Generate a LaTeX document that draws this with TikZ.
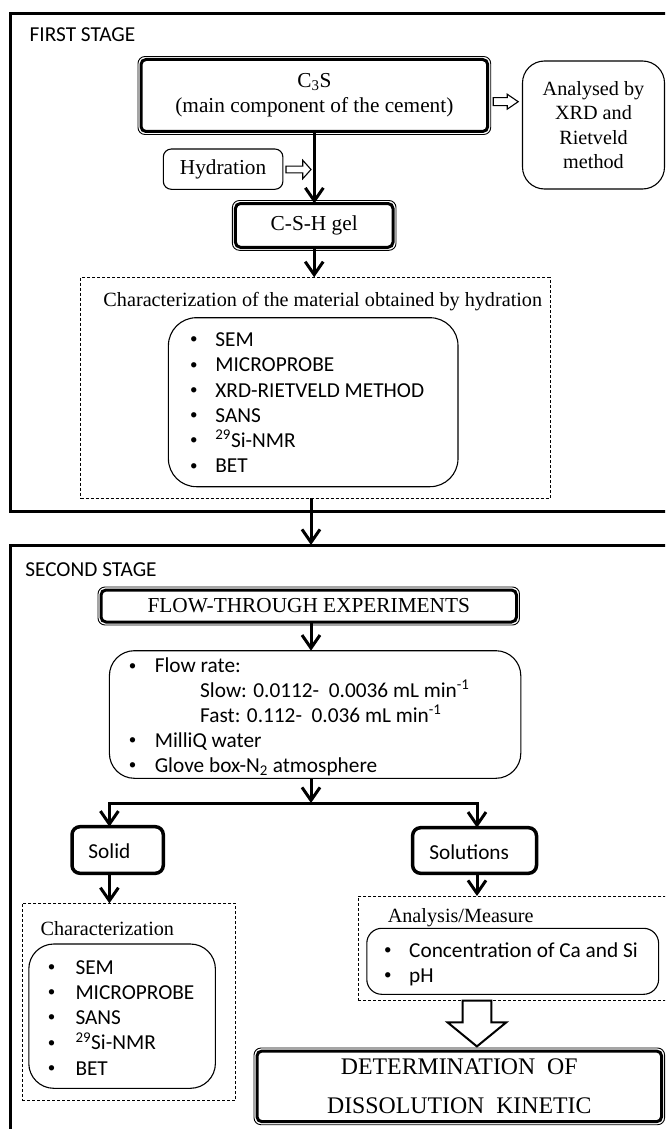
\documentclass[tikz,border=0pt]{standalone}
\usepackage{fontspec}
\setmainfont{Liberation Serif}
\newfontfamily\calfont{Carlito}
\usetikzlibrary{arrows.meta,calc}
\newcommand{\mybul}[1]{\makebox[#1][l]{\hspace*{1.5pt}\raisebox{2.6pt}{\fontsize{15}{15}\selectfont\textbullet}}}
\tikzset{
  every node/.style={inner sep=0pt, outer sep=0pt},
  tnr/.style={font=\fontsize{21.3}{25}\selectfont},
  tnrs/.style={font=\fontsize{20.2}{24.3}\selectfont},
  cal/.style={font=\calfont\fontsize{21.3}{25.3}\selectfont},
  dblbox/.style={draw, line width=3pt, rounded corners=5pt},
  dblouter/.style={line width=0.9pt, rounded corners=7pt},
  thinbox/.style={draw, line width=1.1pt, rounded corners=#1},
  thickbox/.style={draw, line width=3.5pt, rounded corners=8pt},
  stagebox/.style={draw, line width=3pt},
  dashbox/.style={draw, line width=0.9pt, dash pattern=on 3pt off 2pt},
  conn/.style={line width=3pt, line join=miter, -{Straight Barb[length=13pt,width=18pt]}},
  hollow/.style={draw, line width=1.1pt, fill=white, line join=miter},
  bighollow/.style={draw, line width=2pt, fill=white, line join=miter},
  bullbox/.style={cal, anchor=base west},
}
\begin{document}
\begin{tikzpicture}[x=1pt,y=-1pt]
\useasboundingbox (0,0) rectangle (665,1129);
\clip (0,0) rectangle (665,1129);
\fill[white] (0,0) rectangle (665,1129);

% ---------- stage frames
\node[stagebox, minimum width=670pt, minimum height=497.7pt] (outer1) at (345,262.85) {};
\node[stagebox, minimum width=670pt, minimum height=595pt] (outer2) at (345,842.5) {};
\node[cal, anchor=base west] (fs) at (29.7,41.7) {FIRST STAGE};
\node[cal, anchor=base west] (ss) at (25.4,576) {SECOND STAGE};

% ---------- first stage
\node[dblbox, tnr, align=center, minimum width=346.7pt, minimum height=72pt] (c3s) at (314.35,95.5)
  {C\textsubscript{3}S\\(main component of the cement)};
\draw[dblouter] ([xshift=-3pt,yshift=3pt]c3s.north west) rectangle ([xshift=3pt,yshift=-3pt]c3s.south east);

\node[thinbox=22pt, tnrs, align=center, minimum width=142pt, minimum height=128pt] (anal) at (593.5,125)
  {Analysed by\\XRD and\\Rietveld\\method};

\node[thinbox=8pt, tnr, minimum width=119.6pt, minimum height=40.3pt] (hydr) at (223.1,169.15) {Hydration};

\node[dblbox, tnr, minimum width=157.6pt, minimum height=43.8pt] (csh) at (314.2,225.4) {C-S-H gel};
\draw[dblouter] ([xshift=-3pt,yshift=3pt]csh.north west) rectangle ([xshift=3pt,yshift=-3pt]csh.south east);

\node[dashbox, minimum width=469.4pt, minimum height=221pt] (dash1) at (315.3,387.8) {};
\node[tnrs, anchor=base] (char1) at (322.8,306) {Characterization of the material obtained by hydration};
\node[thinbox=28pt, minimum width=289.6pt, minimum height=169pt] (list1) at (313.2,402.2) {};
\foreach \t [count=\i from 0] in {SEM,MICROPROBE,XRD-RIETVELD METHOD,SANS,\textsuperscript{29}Si-NMR,BET}
  \node[bullbox] (la\i) at (188.5,346.5+25.25*\i) {\mybul{26.9pt}\t};

% hollow arrows
\coordinate (ha) at (493.2,101.7);
\draw[hollow] (ha) ++(0,-4) -- ++(14,0) -- ++(0,-3.5) -- ++(11,7.5) -- ++(-11,7.5) -- ++(0,-3.5) -- ++(-14,0) -- cycle;
\coordinate (hb) at (286,169.5);
\draw[hollow] (hb) ++(0,-3.4) -- ++(16.7,0) -- ++(0,-5.9) -- ++(8.3,9.3) -- ++(-8.3,9.3) -- ++(0,-5.9) -- ++(-16.7,0) -- cycle;

% main arrows
\draw[conn] (c3s.south) -- (c3s.south |- csh.north);
\draw[conn] (csh.south) -- (csh.south |- dash1.north);
\coordinate (col) at (311,0);
\draw[conn] (dash1.south -| col) -- (outer2.north -| col);

% ---------- second stage
\node[dblbox, tnr, minimum width=415.5pt, minimum height=32pt] (flow) at (308.75,606) {FLOW-THROUGH EXPERIMENTS};
\draw[dblouter] ([xshift=-3pt,yshift=3pt]flow.north west) rectangle ([xshift=3pt,yshift=-3pt]flow.south east);

\node[thinbox=25pt, minimum width=411.4pt, minimum height=127.6pt] (flowbox) at (315.1,714.5) {};
\node[bullbox] (f1) at (127.4,672.7) {\mybul{27.4pt}Flow rate:};
\node[bullbox] (f2) at (200.2,697.5) {Slow: 0.0112-\ \ 0.0036 mL min\textsuperscript{-1}};
\node[bullbox] (f3) at (200.2,722.5) {Fast: 0.112-\ \ 0.036 mL min\textsuperscript{-1}};
\node[bullbox] (f4) at (127.4,747.5) {\mybul{27.4pt}MilliQ water};
\node[bullbox] (f5) at (127.4,772.5) {\mybul{27.4pt}Glove box-N\textsubscript{2} atmosphere};

\draw[conn] (flow.south -| col) -- (flowbox.north -| col);
\coordinate (split) at (311,803);
\coordinate (sl) at (109.4,803);
\coordinate (sr) at (477,803);
\draw[conn] (flowbox.south -| col) -- (split);

\node[thickbox, minimum width=91.3pt, minimum height=46.6pt] (solid) at (117.65,850) {};
\node[cal, anchor=base] (solidt) at (109.4,858.3) {Solid};
\node[thickbox, minimum width=123.9pt, minimum height=45.6pt] (solu) at (474.55,850.5) {};
\node[cal, anchor=base] (solut) at (469.2,859.5) {Solutions};

\draw[conn] (sr) -- (sl) -- (sl |- solid.north);
\draw[conn] (sl) -- (sr) -- (sr |- solu.north);

\node[dashbox, minimum width=213.8pt, minimum height=196.7pt] (dash2) at (128.9,1001.65) {};
\node[tnrs, anchor=base] (char2) at (107.3,935) {Characterization};
\node[thinbox=25pt, minimum width=186.6pt, minimum height=144.3pt] (list2) at (122.1,1016.15) {};
\foreach \t [count=\i from 0] in {SEM,MICROPROBE,SANS,\textsuperscript{29}Si-NMR,BET}
  \node[bullbox] (lb\i) at (46.4,974+25.25*\i) {\mybul{29.1pt}\t};

\node[dashbox, minimum width=321.6pt, minimum height=104.7pt] (dash3) at (519.2,948.35) {};
\node[tnrs, anchor=base] (char3) at (460.7,922.3) {Analysis/Measure};
\node[thinbox=15pt, minimum width=291.8pt, minimum height=66pt] (list3) at (512.7,961.3) {};
\node[bullbox] (lc0) at (382.7,957.3) {\mybul{26.5pt}Concentration of Ca and Si};
\node[bullbox] (lc1) at (382.7,982.5) {\mybul{26.5pt}pH};

\draw[conn] (sl |- solid.south) -- (sl |- dash2.north);
\draw[conn] (sr |- solu.south) -- (sr |- dash3.north);

\node[dblbox, font=\fontsize{23.8}{39.7}\selectfont, align=center, minimum width=404.6pt, minimum height=70.7pt] (det) at (459.3,1086.35)
  {DETERMINATION\ \ OF\\DISSOLUTION\ \ KINETIC};
\draw[dblouter] ([xshift=-3pt,yshift=3pt]det.north west) rectangle ([xshift=3pt,yshift=-3pt]det.south east);

\coordinate (ba) at (dash3.south -| 476.7,0);
\draw[bighollow] (ba) ++(-14.2,0) -- ++(0,21.7) -- ++(-14.9,0) -- ++(29.3,24) -- ++(29.3,-24) -- ++(-14.9,0) -- ++(0,-21.7) -- cycle;
\end{tikzpicture}
\end{document}
